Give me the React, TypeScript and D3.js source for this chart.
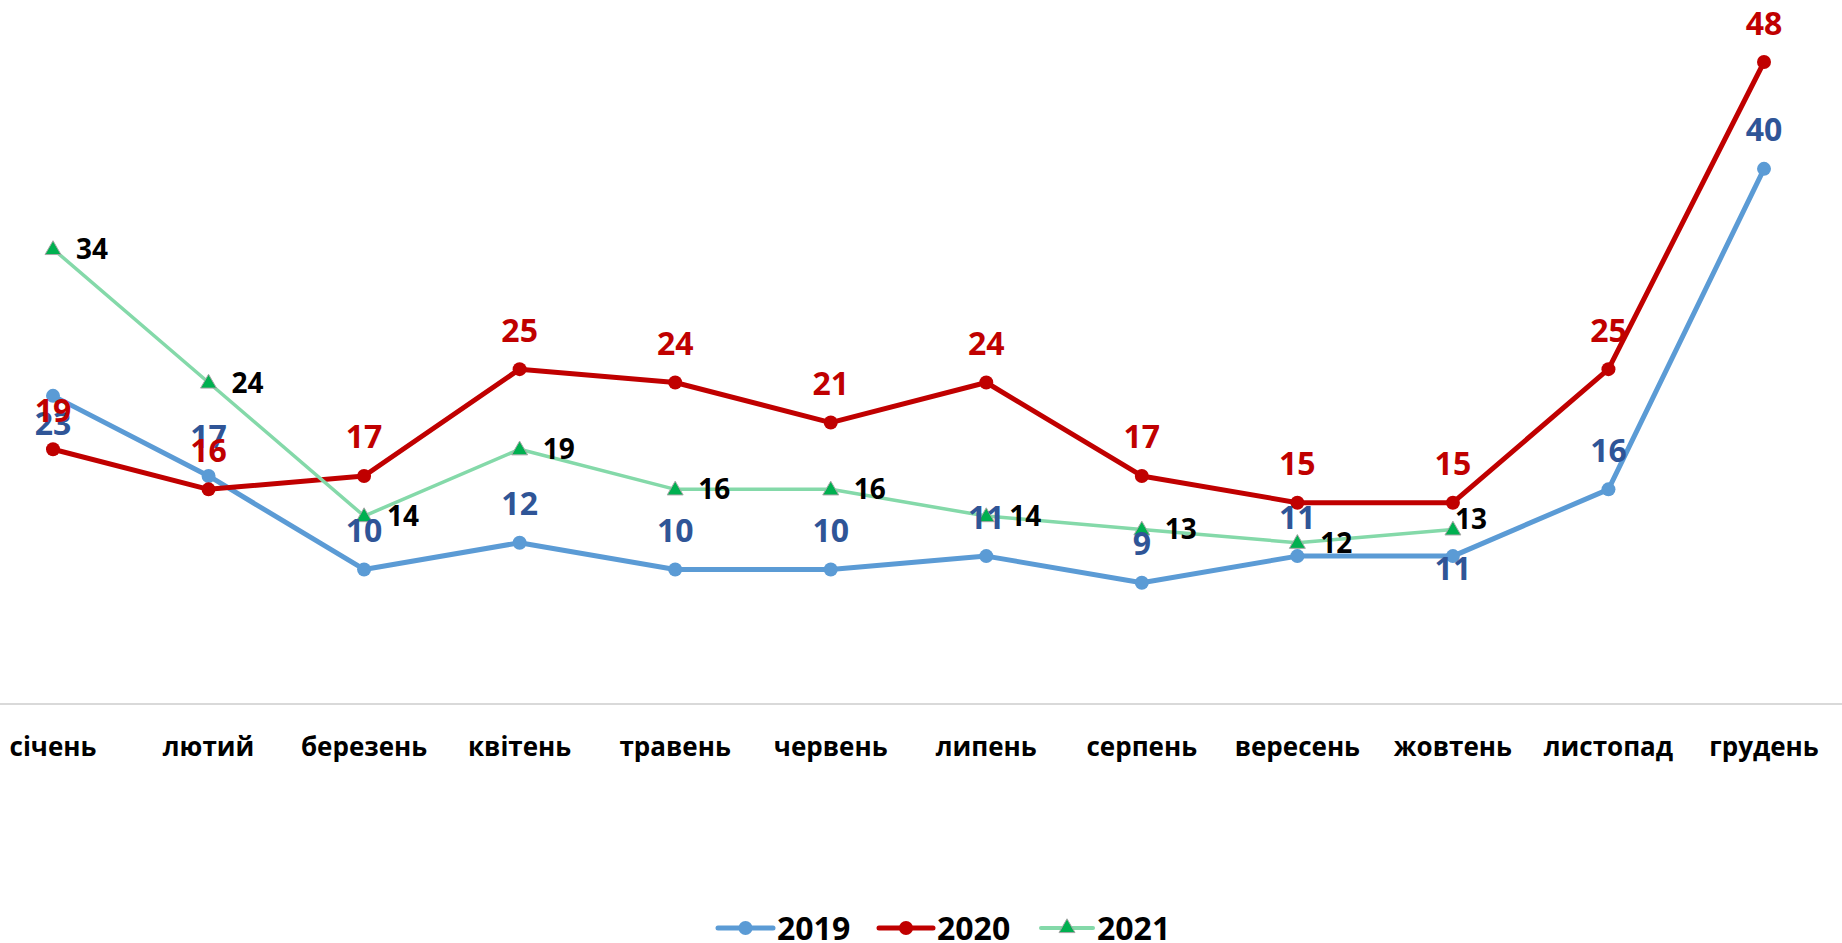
import React from 'react'
import * as d3 from 'd3'

// months on the x axis
const months = ['січень', 'лютий', 'березень', 'квітень', 'травень', 'червень', 'липень', 'серпень', 'вересень', 'жовтень', 'листопад', 'грудень']

// series values
const values2019 = [23, 17, 10, 12, 10, 10, 11, 9, 11, 11, 16, 40]
const values2020 = [19, 16, 17, 25, 24, 21, 24, 17, 15, 15, 25, 48]
const values2021 = [34, 24, 14, 19, 16, 16, 14, 13, 12, 13]

const years = ['2019', '2020', '2021']

const W = 1842
const H = 943
const FONT = "'Open Sans', 'Noto Sans', sans-serif"

// label nudges (layout only): 2019 labels sit above except two, 2021 sit right
const below2019: Record<number, number> = { 0: 28, 9: 12 }
const nudge2021: Record<number, number> = { 9: -10 }

const c2019 = '#5B9BD5'
const c2020 = '#C00000'
const c2021 = '#84D9A9'

export default function App() {
  const x = d3.scalePoint<string>().domain(months).range([53, 1764])
  const y = d3.scaleLinear().domain([0, 48]).range([703, 62])

  const line = d3.line<number>()
    .x((d, i) => x(months[i]) as number)
    .y(d => y(d))

  const tri = d3.symbol().type(d3.symbolTriangle).size(110)

  const legendY = 928
  const legendItems = [
    { name: years[0], color: c2019, x0: 718, x1: 773, tx: 777, marker: 'circle' },
    { name: years[1], color: c2020, x0: 879, x1: 933, tx: 937, marker: 'circle' },
    { name: years[2], color: c2021, x0: 1041, x1: 1093, tx: 1097, marker: 'tri' },
  ]

  return (
    <svg width={W} height={H} style={{ position: 'absolute', left: 0, top: 0, background: '#fff' }}
      fontFamily={FONT} fontWeight="bold">
      {/* axis line */}
      <line x1={0} x2={W} y1={y(0) + 1} y2={y(0) + 1} stroke="#D9D9D9" strokeWidth={2} />

      {/* category labels */}
      {months.map(m => (
        <text key={m} x={x(m)} y={756} textAnchor="middle" fontSize={26} fill="#000">{m}</text>
      ))}

      {/* lines */}
      <path d={line(values2019) || ''} fill="none" stroke={c2019} strokeWidth={5} strokeLinejoin="round" />
      <path d={line(values2020) || ''} fill="none" stroke={c2020} strokeWidth={5} strokeLinejoin="round" />
      <path d={line(values2021) || ''} fill="none" stroke={c2021} strokeWidth={3.5} strokeLinejoin="round" />

      {/* markers */}
      {values2019.map((v, i) => (
        <circle key={'a' + i} cx={x(months[i])} cy={y(v)} r={7} fill={c2019} />
      ))}
      {values2020.map((v, i) => (
        <circle key={'b' + i} cx={x(months[i])} cy={y(v)} r={7} fill={c2020} />
      ))}
      {values2021.map((v, i) => (
        <path key={'c' + i} d={tri() || ''} transform={`translate(${x(months[i])},${y(v) + 1})`}
          fill="#00B050" stroke="#A6A6A6" strokeWidth={1} />
      ))}

      {/* data labels */}
      {values2019.map((v, i) => (
        <text key={'la' + i} x={x(months[i])} y={y(v) + (below2019[i] !== undefined ? below2019[i] : -39)}
          dy="0.36em" textAnchor="middle" fontSize={32} fill="#2F5597">{v}</text>
      ))}
      {values2020.map((v, i) => (
        <text key={'lb' + i} x={x(months[i])} y={y(v) - 39}
          dy="0.36em" textAnchor="middle" fontSize={32} fill={c2020}>{v}</text>
      ))}
      {values2021.map((v, i) => (
        <text key={'lc' + i} x={(x(months[i]) as number) + (nudge2021[i] !== undefined ? 2 : 23)}
          y={y(v) + (nudge2021[i] || 0)}
          dy="0.36em" textAnchor="start" fontSize={28} fill="#000">{v}</text>
      ))}

      {/* legend */}
      {legendItems.map(it => (
        <g key={it.name}>
          <line x1={it.x0} x2={it.x1} y1={legendY} y2={legendY} stroke={it.color}
            strokeWidth={it.marker === 'tri' ? 4 : 5} strokeLinecap="round" />
          {it.marker === 'circle'
            ? <circle cx={(it.x0 + it.x1) / 2} cy={legendY} r={7} fill={it.color} />
            : <path d={tri() || ''} transform={`translate(${(it.x0 + it.x1) / 2},${legendY})`}
              fill="#00B050" stroke="#A6A6A6" strokeWidth={1} />}
          <text x={it.tx} y={legendY} dy="0.36em" fontSize={32} fill="#000">{it.name}</text>
        </g>
      ))}
    </svg>
  )
}
